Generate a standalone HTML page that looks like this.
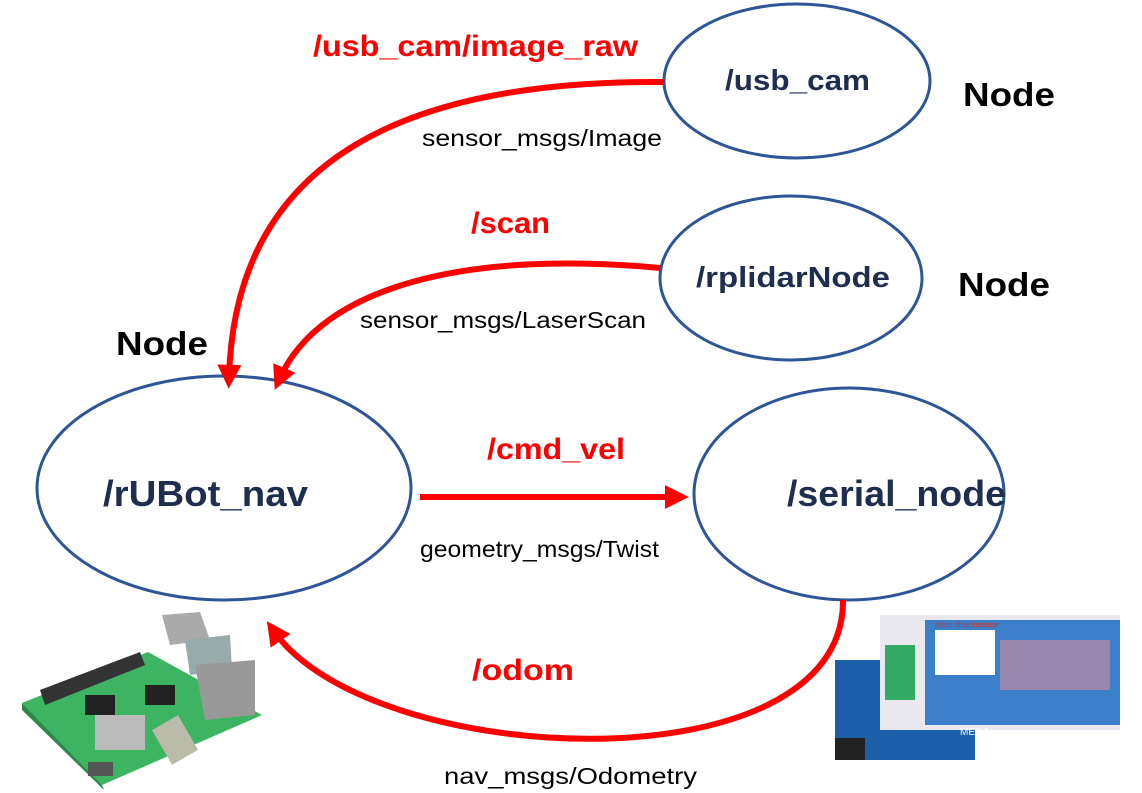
<!DOCTYPE html>
<html><head><style>
body{margin:0;width:1142px;height:793px;background:#fff;overflow:hidden}
svg{display:block}
text{font-family:"Liberation Sans",sans-serif}
</style></head><body>
<svg width="1142" height="793" viewBox="0 0 1142 793">
<defs>
<marker id="ah" markerWidth="4" markerHeight="4" refX="2.2" refY="2" orient="auto" markerUnits="strokeWidth">
<path d="M0,0 L4,2 L0,4 Z" fill="#ff0000"/></marker>
</defs>
<g fill="none" stroke="#2f5597" stroke-width="3">
<ellipse cx="797" cy="81" rx="133" ry="77"/>
<ellipse cx="791" cy="278" rx="131" ry="82"/>
<ellipse cx="224" cy="488" rx="187" ry="112"/>
<ellipse cx="849" cy="494" rx="155" ry="106"/>
</g>
<g fill="none" stroke="#ff0000" stroke-width="6">
<path d="M664,82 C420,80 235,150 229,378" marker-end="url(#ah)"/>
<path d="M660,268 C470,250 320,285 279,380" marker-end="url(#ah)"/>
<path d="M420,497 L678,497" marker-end="url(#ah)"/>
<path d="M843,600 C845,790 370,770 273,630" marker-end="url(#ah)"/>
</g>
<g font-weight="bold" fill="#ff0000" font-size="30" lengthAdjust="spacingAndGlyphs">
<text x="313" y="56" textLength="325" lengthAdjust="spacingAndGlyphs">/usb_cam/image_raw</text>
<text x="471" y="233" textLength="79" lengthAdjust="spacingAndGlyphs">/scan</text>
<text x="487" y="459" textLength="138" lengthAdjust="spacingAndGlyphs">/cmd_vel</text>
<text x="472" y="680" textLength="102" lengthAdjust="spacingAndGlyphs">/odom</text>
</g>
<g font-size="23" fill="#000">
<text x="422" y="146" textLength="240" lengthAdjust="spacingAndGlyphs">sensor_msgs/Image</text>
<text x="360" y="328" textLength="286" lengthAdjust="spacingAndGlyphs">sensor_msgs/LaserScan</text>
<text x="420" y="557" textLength="239" lengthAdjust="spacingAndGlyphs">geometry_msgs/Twist</text>
<text x="444" y="784" textLength="253" lengthAdjust="spacingAndGlyphs">nav_msgs/Odometry</text>
</g>
<g font-weight="bold" font-size="33" fill="#000">
<text x="963" y="106" textLength="92" lengthAdjust="spacingAndGlyphs">Node</text>
<text x="958" y="296" textLength="92" lengthAdjust="spacingAndGlyphs">Node</text>
<text x="116" y="355" textLength="92" lengthAdjust="spacingAndGlyphs">Node</text>
</g>
<g font-weight="bold" fill="#1f2d4f">
<text x="725" y="90" font-size="29" textLength="145" lengthAdjust="spacingAndGlyphs">/usb_cam</text>
<text x="696" y="287" font-size="29" textLength="194" lengthAdjust="spacingAndGlyphs">/rplidarNode</text>
<text x="103" y="506" font-size="36" textLength="205" lengthAdjust="spacingAndGlyphs">/rUBot_nav</text>
<text x="787" y="506" font-size="36" textLength="219" lengthAdjust="spacingAndGlyphs">/serial_node</text>
</g>
<!-- Raspberry Pi -->
<g>
<polygon points="22,703 148,652 262,715 102,785" fill="#3cb462"/>
<polygon points="22,703 102,785 104,790 22,710" fill="#2a8a48"/>
<polygon points="40,690 140,652 145,665 45,705" fill="#333"/>
<rect x="95" y="715" width="50" height="35" fill="#bbb"/>
<rect x="85" y="695" width="30" height="20" fill="#222"/>
<rect x="145" y="685" width="30" height="20" fill="#222"/>
<polygon points="162,615 200,612 210,640 170,645" fill="#aaa"/>
<polygon points="185,640 230,635 232,670 190,675" fill="#9aa"/>
<polygon points="195,665 255,660 255,715 205,720" fill="#999"/>
<rect x="160" y="720" width="30" height="40" fill="#bba" transform="rotate(-30 175 740)"/>
<rect x="88" y="762" width="25" height="14" fill="#555"/>
</g>
<!-- Arduino -->
<g>
<rect x="835" y="660" width="140" height="100" fill="#1a5fa8"/>
<rect x="835" y="738" width="30" height="22" fill="#222"/>
<rect x="880" y="615" width="240" height="115" fill="#e8e8ee"/>
<rect x="925" y="620" width="195" height="105" fill="#3a7fc8"/>
<rect x="935" y="630" width="60" height="45" fill="#fff"/>
<rect x="885" y="645" width="30" height="55" fill="#33aa66"/>
<rect x="1000" y="640" width="110" height="50" fill="#d88a9a" opacity="0.6"/>
<text x="935" y="627" font-size="7" fill="#c33">Motor drive interface</text>
<text x="960" y="735" font-size="10" fill="#fff">MEGA</text>
</g>
</svg>
</body></html>
